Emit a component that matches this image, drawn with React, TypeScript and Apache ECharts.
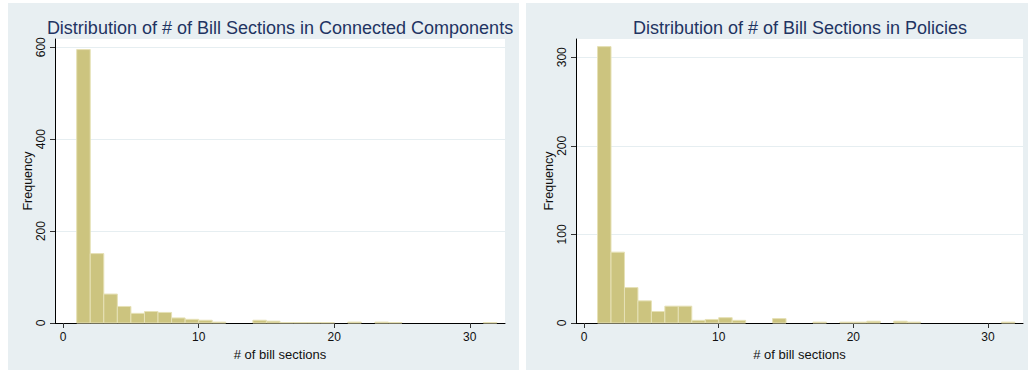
import React, { useEffect, useRef } from "react";
import * as echarts from "echarts";

// ---- data ----
const BIN_WIDTH = 1;
const leftTitle = "Distribution of # of Bill Sections in Connected Components";
const rightTitle = "Distribution of # of Bill Sections in Policies";
const xAxisName = "# of bill sections";
const yAxisName = "Frequency";

// bin starts (each bin is [start, start + 1))
const binStarts = [
  1, 2, 3, 4, 5, 6, 7, 8, 9, 10, 11, 12, 13, 14, 15, 16, 17, 18, 19, 20, 21, 22,
  23, 24, 25, 26, 27, 28, 29, 30, 31,
];
const componentCounts = [
  595, 151, 63, 36, 21, 25, 23, 11, 8, 6, 2, 0, 0, 6, 4, 1, 1, 1, 1, 0, 2, 0,
  2, 1, 0, 0, 0, 0, 0, 0, 1,
];
const policyCounts = [
  312, 80, 40, 25, 13, 19, 19, 3, 4, 6, 3, 0, 0, 5, 0, 0, 1, 0, 1, 1, 2, 0,
  2, 1, 0, 0, 0, 0, 0, 0, 1,
];
const xTicks = [0, 10, 20, 30];
const leftYTicks = [0, 200, 400, 600];
const rightYTicks = [0, 100, 200, 300];

// ---- style ----
const FONT = "'Liberation Sans', Arial, sans-serif";
const PANEL_BG = "#e8eff2";
const BAR_FILL = "#ccc47f";
const BAR_STROKE = "#e6e1b6";
const TITLE_COLOR = "#1f3462";
const GRID_COLOR = "#e6eef1";

function toData(counts: number[]) {
  return binStarts
    .map((s, i) => [s, counts[i]])
    .filter((d) => d[1] > 0);
}

function xAxisCfg(gridIndex: number) {
  return {
    gridIndex,
    type: "value",
    min: -0.6,
    max: 32.6,
    name: xAxisName,
    nameLocation: "middle",
    nameGap: 21,
    nameTextStyle: { fontSize: 13, color: "#111", fontFamily: FONT },
    axisLine: { show: true, onZero: false, lineStyle: { color: "#000", width: 1 } },
    axisTick: {
      show: true,
      length: 5,
      customValues: xTicks,
      lineStyle: { color: "#333" },
    },
    axisLabel: {
      customValues: xTicks,
      margin: 8,
      fontSize: 12,
      color: "#111",
      fontFamily: FONT,
    },
    splitLine: { show: false },
  };
}

function yAxisCfg(gridIndex: number, max: number, ticks: number[]) {
  return {
    gridIndex,
    type: "value",
    min: 0,
    max,
    name: yAxisName,
    nameLocation: "middle",
    nameGap: 18,
    nameTextStyle: { fontSize: 12.5, color: "#111", fontFamily: FONT },
    axisLine: { show: true, onZero: false, lineStyle: { color: "#000", width: 1 } },
    axisTick: {
      show: true,
      length: 5,
      customValues: ticks,
      lineStyle: { color: "#333" },
    },
    axisLabel: {
      customValues: ticks,
      rotate: 90,
      margin: 8,
      fontSize: 12,
      color: "#111",
      fontFamily: FONT,
    },
    splitLine: { show: true, lineStyle: { color: GRID_COLOR, width: 1 } },
  };
}

function histSeries(idx: number, counts: number[]) {
  return {
    type: "custom",
    xAxisIndex: idx,
    yAxisIndex: idx,
    data: toData(counts),
    renderItem: (params: any, api: any) => {
      const x0 = api.value(0);
      const y = api.value(1);
      const p0 = api.coord([x0, y]);
      const p1 = api.coord([x0 + BIN_WIDTH, 0]);
      return {
        type: "rect",
        shape: { x: p0[0], y: p0[1], width: p1[0] - p0[0], height: p1[1] - p0[1] },
        style: { fill: BAR_FILL, stroke: BAR_STROKE, lineWidth: 1 },
      };
    },
  };
}

export default function App() {
  const ref = useRef<HTMLDivElement>(null);
  useEffect(() => {
    if (!ref.current) return;
    const chart = echarts.init(ref.current, undefined, { renderer: "svg" });
    chart.setOption({
      animation: false,
      backgroundColor: "#ffffff",
      textStyle: { fontFamily: FONT },
      graphic: [
        { type: "rect", z: -10, shape: { x: 8, y: 3, width: 511, height: 367 }, style: { fill: PANEL_BG } },
        { type: "rect", z: -10, shape: { x: 526, y: 3, width: 502, height: 367 }, style: { fill: PANEL_BG } },
      ],
      title: [
        {
          text: leftTitle,
          left: 275,
          top: 14,
          textAlign: "center",
          textStyle: { fontSize: 18, fontWeight: "normal", color: TITLE_COLOR, fontFamily: FONT },
        },
        {
          text: rightTitle,
          left: 795,
          top: 14,
          textAlign: "center",
          textStyle: { fontSize: 18, fontWeight: "normal", color: TITLE_COLOR, fontFamily: FONT },
        },
      ],
      grid: [
        { left: 55, top: 39, width: 450, height: 284, show: true, backgroundColor: "#fff", borderWidth: 0 },
        { left: 576, top: 39, width: 447, height: 284, show: true, backgroundColor: "#fff", borderWidth: 0 },
      ],
      xAxis: [xAxisCfg(0), xAxisCfg(1)],
      yAxis: [yAxisCfg(0, 618, leftYTicks), yAxisCfg(1, 320.6, rightYTicks)],
      series: [histSeries(0, componentCounts), histSeries(1, policyCounts)],
    });
    return () => chart.dispose();
  }, []);
  return (
    <div
      ref={ref}
      style={{ position: "absolute", left: 0, top: 0, width: 1028, height: 372 }}
    />
  );
}
